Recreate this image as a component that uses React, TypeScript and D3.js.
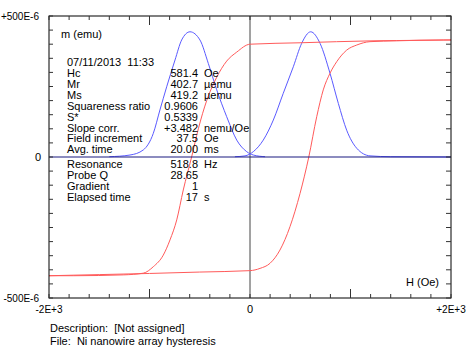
import React from 'react';
import * as d3 from 'd3';

// field in Oe, moment in µemu
const upperH = [2000, 1460, 1224, 498, 0, -132, -232, -331, -431, -514, -581, -664, -729, -796, -863, -962, -1062, -1261, -1758, -2000];
const upperM = [415, 413, 412, 405, 400, 372, 340, 283, 200, 100, 0, -117, -223, -294, -348, -389, -412, -418, -421, -421];

const lowerH = [-2000, -1500, -1000, -500, 0, 100, 199, 298, 398, 498, 585, 664, 729, 796, 863, 962, 1062, 1194, 1460, 1924, 2000];
const lowerM = [-421, -417, -413, -408, -403, -395, -377, -330, -247, -129, 0, 143, 238, 297, 338, 379, 397, 409, 412, 415, 415];

// derivative peaks (scaled)
const peakLeftH = [-1400, -1194, -1062, -962, -896, -829, -746, -680, -597, -498, -415, -331, -232, -132, -33, 33, 150];
const peakLeftM = [1, 7, 25, 84, 167, 249, 344, 415, 444, 415, 332, 238, 143, 60, 19, 7, 1];
const peakRightH = [-150, -50, 33, 132, 232, 331, 431, 514, 604, 697, 796, 879, 962, 1062, 1194, 1400, 2000];
const peakRightM = [1, 4, 19, 60, 131, 226, 320, 403, 444, 403, 297, 190, 95, 31, 4, 1, 0];

const infoLabels = ['Hc', 'Mr', 'Ms', 'Squareness ratio', 'S*', 'Slope corr.', 'Field increment', 'Avg. time'];
const infoValues = ['581.4', '402.7', '419.2', '0.9606', '0.5339', '+3.482', '37.5', '20.00'];
const infoUnits = ['Oe', 'µemu', 'µemu', '', '', 'nemu/Oe', 'Oe', 'ms'];
const probeLabels = ['Resonance', 'Probe Q', 'Gradient', 'Elapsed time'];
const probeValues = ['518.8', '28.65', '1', '17'];
const probeUnits = ['Hz', '', '', 's'];

const xTicks = d3.range(-2000, 2001, 200);
const yTicks = d3.range(-500, 501, 50);

const W = 470, H = 360;
const L = 49, R = 451, T = 16, B = 298;

export default function App() {
  const x = d3.scaleLinear().domain([-2000, 2000]).range([L, R]);
  const y = d3.scaleLinear().domain([-500, 500]).range([B, T]);
  const line = d3.line<[number, number]>()
    .x(d => x(d[0]))
    .y(d => y(d[1]))
    .curve(d3.curveMonotoneX);
  const pts = (hs: number[], ms: number[]) => hs.map((h, i) => [h, ms[i]] as [number, number]).sort((a, b) => a[0] - b[0]);

  const font = { fontFamily: 'Liberation Sans, Arial, sans-serif', fontSize: 11, fill: '#000' };
  const small = { ...font, fontSize: 10 };

  return (
    <svg width={W} height={H} style={{ position: 'absolute', left: 0, top: 0, background: '#fff' }}>
      <rect x={0} y={0} width={W} height={H} fill="#fff" />
      <defs>
        <clipPath id="plot">
          <rect x={L} y={T} width={R - L} height={B - T} />
        </clipPath>
      </defs>

      {/* zero lines */}
      <line x1={x(0)} x2={x(0)} y1={T} y2={B} stroke="#444" strokeWidth={1} />

      <g clipPath="url(#plot)" fill="none">
        <path d={line(pts(peakLeftH, peakLeftM)) || ''} stroke="#5a5aff" strokeWidth={1} />
        <path d={line(pts(peakRightH, peakRightM)) || ''} stroke="#5a5aff" strokeWidth={1} />
        <path d={line(pts(upperH, upperM)) || ''} stroke="#ff5a5a" strokeWidth={1} />
        <path d={line(pts(lowerH, lowerM)) || ''} stroke="#ff5a5a" strokeWidth={1} />
      </g>
      <line x1={L} x2={R} y1={y(0)} y2={y(0)} stroke="#1a1a80" strokeWidth={1.2} />

      {/* frame and ticks */}
      <rect x={L} y={T} width={R - L} height={B - T} fill="none" stroke="#000" strokeWidth={1} />
      {xTicks.map(t => {
        const len = Math.abs(t) === 1000 ? 9 : 4;
        return (
          <g key={'x' + t} stroke="#333">
            <line x1={x(t)} x2={x(t)} y1={B} y2={B - len} />
            <line x1={x(t)} x2={x(t)} y1={T} y2={T + len} />
          </g>
        );
      })}
      {yTicks.map(t => (
        <g key={'y' + t} stroke="#333">
          <line x1={L} x2={L + 4} y1={y(t)} y2={y(t)} />
          <line x1={R} x2={R - 5} y1={y(t)} y2={y(t)} />
        </g>
      ))}

      {/* axis labels */}
      <text x={39} y={y(500) + 4} textAnchor="end" style={small}>+500E-6</text>
      <text x={41} y={y(0) + 4} textAnchor="end" style={font}>0</text>
      <text x={39} y={y(-500) + 4} textAnchor="end" style={small}>-500E-6</text>
      <text x={x(-2000)} y={313} textAnchor="middle" style={small}>-2E+3</text>
      <text x={x(0)} y={313} textAnchor="middle" style={font}>0</text>
      <text x={x(2000)} y={313} textAnchor="middle" style={small}>+2E+3</text>
      <text x={61} y={38} style={font}>m (emu)</text>
      <text x={439} y={286} textAnchor="end" style={font}>H (Oe)</text>

      {/* info block */}
      <text x={67} y={66} style={font}>07/11/2013&#160;&#160;11:33</text>
      {infoLabels.map((lab, i) => (
        <g key={lab}>
          <text x={67} y={77 + i * 10.9} style={font}>{lab}</text>
          <text x={198} y={77 + i * 10.9} textAnchor="end" style={font}>{infoValues[i]}</text>
          <text x={204} y={77 + i * 10.9} style={font}>{infoUnits[i]}</text>
        </g>
      ))}
      {probeLabels.map((lab, i) => (
        <g key={lab}>
          <text x={67} y={168 + i * 10.9} style={font}>{lab}</text>
          <text x={198} y={168 + i * 10.9} textAnchor="end" style={font}>{probeValues[i]}</text>
          <text x={204} y={168 + i * 10.9} style={font}>{probeUnits[i]}</text>
        </g>
      ))}

      {/* footer */}
      <text x={50} y={332} style={font}>Description:&#160;&#160;[Not assigned]</text>
      <text x={50} y={345} style={font}>File:&#160;&#160;Ni nanowire array hysteresis</text>
    </svg>
  );
}
